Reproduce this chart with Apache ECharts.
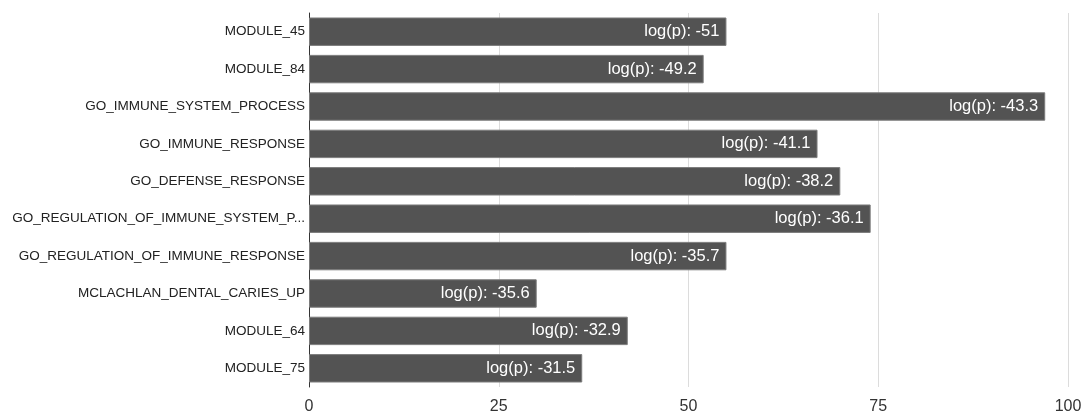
<!DOCTYPE html>
<html>
<head>
<meta charset="utf-8">
<script src="https://cdn.jsdelivr.net/npm/echarts@6/dist/echarts.min.js"></script>
<style>
  html, body { margin: 0; padding: 0; background: #fff; }
  #chart { width: 1086px; height: 415px; }
</style>
</head>
<body>
<div id="chart"></div>
<script>
// Gene set names, top to bottom
const categories = [
  'MODULE_45',
  'MODULE_84',
  'GO_IMMUNE_SYSTEM_PROCESS',
  'GO_IMMUNE_RESPONSE',
  'GO_DEFENSE_RESPONSE',
  'GO_REGULATION_OF_IMMUNE_SYSTEM_P...',
  'GO_REGULATION_OF_IMMUNE_RESPONSE',
  'MCLACHLAN_DENTAL_CARIES_UP',
  'MODULE_64',
  'MODULE_75'
];

// Bar lengths on the 0–100 scale
const scores = [55, 52, 97, 67, 70, 74, 55, 30, 42, 36];

// log(p) shown inside each bar
const logP = [-51, -49.2, -43.3, -41.1, -38.2, -36.1, -35.7, -35.6, -32.9, -31.5];

// x-axis ticks
const xTicks = [0, 25, 50, 75, 100];

const font = "'Liberation Sans', Arial, Helvetica, sans-serif";

const chart = echarts.init(document.getElementById('chart'), null, { renderer: 'canvas' });

chart.setOption({
  animation: false,
  backgroundColor: '#ffffff',
  grid: { left: 309, right: 18, top: 13, bottom: 27, containLabel: false },
  xAxis: {
    type: 'value',
    min: xTicks[0],
    max: xTicks[xTicks.length - 1],
    interval: xTicks[1] - xTicks[0],
    axisLine: { show: false },
    axisTick: { show: false },
    splitLine: { show: true, lineStyle: { color: '#dcdcdc', width: 1 } },
    axisLabel: { color: '#333', fontSize: 16, fontFamily: font, margin: 12 }
  },
  yAxis: {
    type: 'category',
    data: categories,
    inverse: true,
    axisLine: { show: true, lineStyle: { color: '#333', width: 1 } },
    axisTick: { show: false },
    axisLabel: { color: '#222', fontSize: 13.5, fontFamily: font, margin: 4 }
  },
  series: [{
    type: 'bar',
    data: scores,
    barWidth: '76%',
    itemStyle: { color: '#535353', borderColor: '#7c7c7c', borderWidth: 1 },
    label: {
      show: true,
      position: 'insideRight',
      distance: 7,
      color: '#ffffff',
      fontSize: 16.5,
      fontFamily: font,
      formatter: p => 'log(p): ' + logP[p.dataIndex]
    }
  }]
});
</script>
</body>
</html>
